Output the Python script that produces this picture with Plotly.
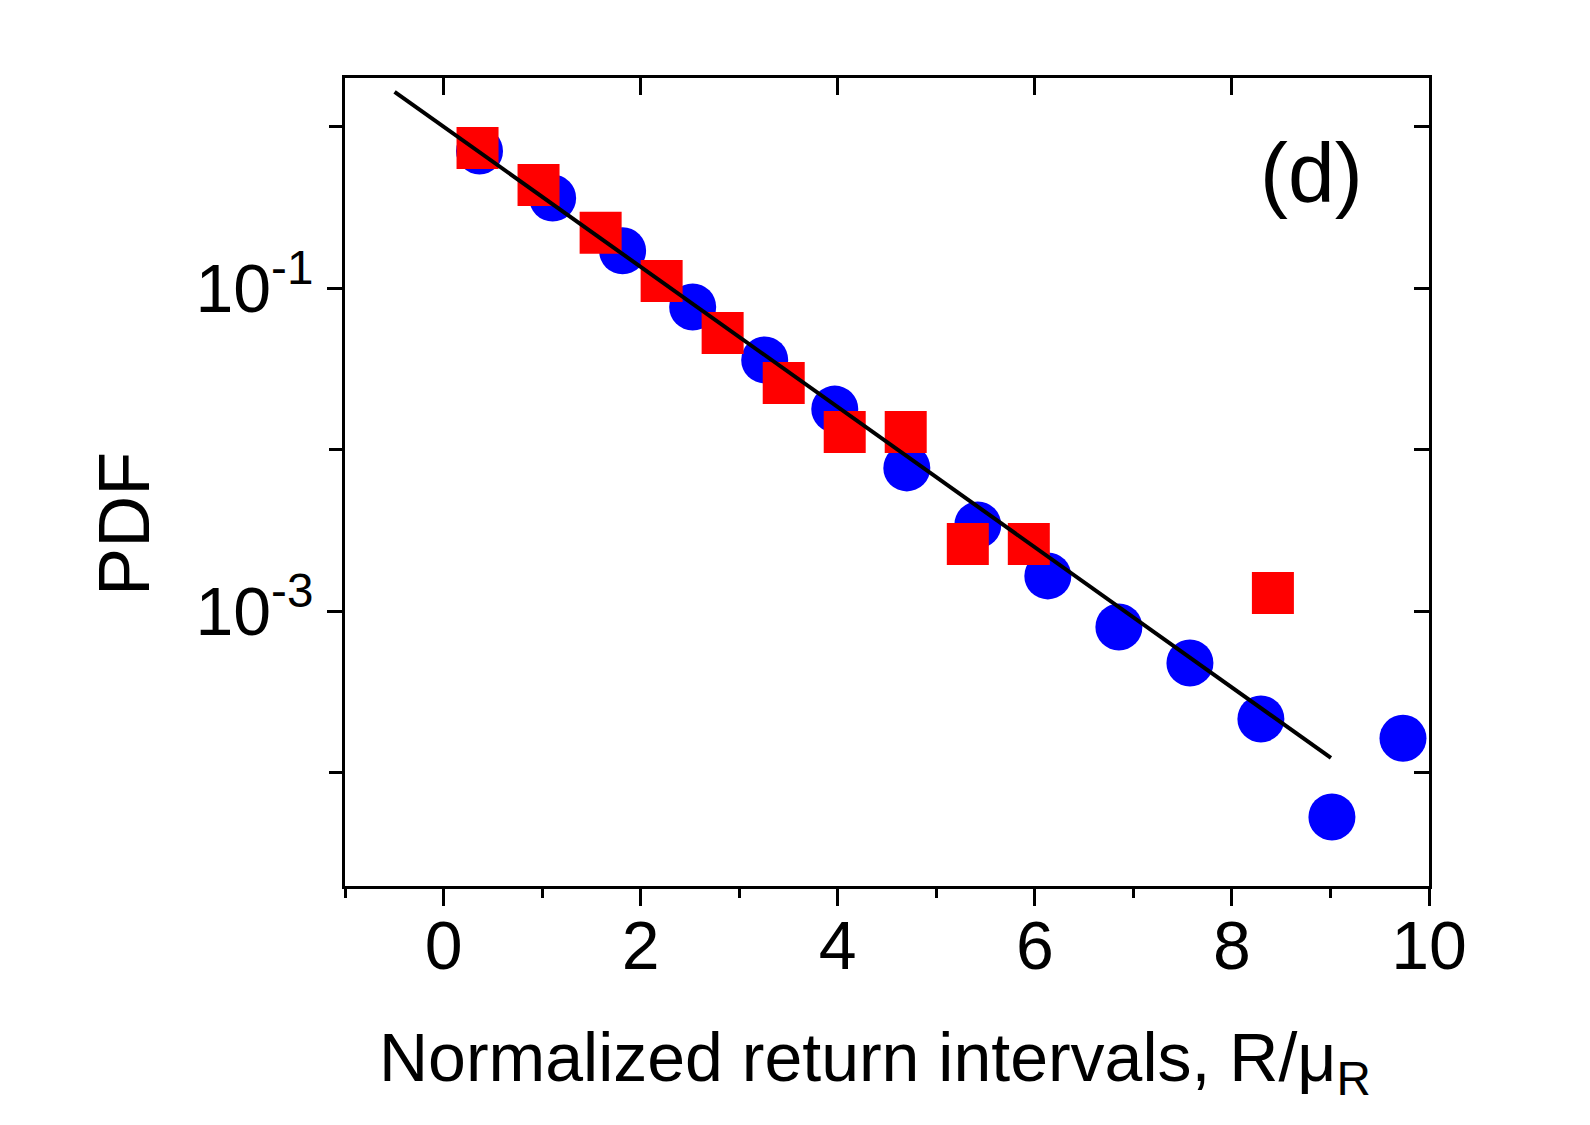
import plotly.graph_objects as go

# blue circles
blue_x = [0.365, 1.107, 1.817, 2.528, 3.259, 3.970, 4.701, 5.421, 6.132,
          6.853, 7.574, 8.294, 9.015, 9.736]
blue_y = [0.710, 0.363, 0.171, 0.0768, 0.0361, 0.0179, 0.00774, 0.00343,
          0.00166, 0.000802, 0.000480, 0.000216, 5.34e-5, 0.000164]

# red squares
red_x = [0.345, 0.964, 1.594, 2.213, 2.832, 3.452, 4.071, 4.690, 5.320,
         5.939, 8.416]
red_y = [0.741, 0.437, 0.221, 0.111, 0.0530, 0.0260, 0.0129, 0.0129,
         0.00262, 0.00262, 0.00130]

# fitted line (end points)
fit_x = [-0.497, 9.005]
fit_y = [1.65, 1.24e-4]

x_ticks = [0, 2, 4, 6, 8, 10]
y_ticks = [1, 0.1, 0.01, 0.001, 0.0001]
y_label_vals = [0.1, 0.001]
y_label_text = ["10<sup>-1</sup>", "10<sup>-3</sup>"]

FONT = "Arial, Liberation Sans, sans-serif"
x_range = [-1, 10]
y_range = [-4.70, 0.303]

fig = go.Figure()
fig.add_trace(go.Scatter(
    x=blue_x, y=blue_y, mode="markers",
    marker=dict(symbol="circle", size=47, color="#0000ff", line=dict(width=0)),
    showlegend=False))
fig.add_trace(go.Scatter(
    x=red_x, y=red_y, mode="markers",
    marker=dict(symbol="square", size=42, color="#ff0000", line=dict(width=0)),
    showlegend=False))
fig.add_trace(go.Scatter(
    x=fit_x, y=fit_y, mode="lines",
    line=dict(color="black", width=4), showlegend=False))
# dummy traces so the extra tick axes get drawn
fig.add_trace(go.Scatter(x=[None], y=[None], xaxis="x2", yaxis="y2",
                         showlegend=False, hoverinfo="skip"))
fig.add_trace(go.Scatter(x=[None], y=[None], xaxis="x", yaxis="y3",
                         showlegend=False, hoverinfo="skip"))

tick_style = dict(tickwidth=3, tickcolor="black", showgrid=False,
                  zeroline=False)

fig.update_layout(
    width=1590, height=1125,
    margin=dict(l=337, r=169, t=70, b=247),
    paper_bgcolor="white", plot_bgcolor="white",
    font=dict(family=FONT, color="black"),
    xaxis=dict(
        range=x_range, tickvals=x_ticks, ticks="outside", ticklen=17,
        showline=True, linewidth=3, linecolor="black", mirror=True,
        tickfont=dict(size=68, family=FONT), ticklabelstandoff=-19,
        minor=dict(dtick=1, tick0=0, ticks="outside", ticklen=9,
                   tickwidth=3, tickcolor="black", showgrid=False),
        **tick_style,
    ),
    yaxis=dict(
        type="log", range=y_range, tickvals=y_label_vals,
        ticktext=y_label_text, ticks="outside", ticklen=15,
        showline=True, linewidth=3, linecolor="black", mirror=True,
        tickfont=dict(size=68, family=FONT),
        **tick_style,
    ),
    xaxis2=dict(
        range=x_range, overlaying="x", side="top", anchor="y",
        tickvals=x_ticks, ticks="inside", ticklen=17,
        showticklabels=False, showline=False, **tick_style,
    ),
    yaxis2=dict(
        type="log", range=y_range, overlaying="y", side="right", anchor="x",
        tickvals=y_ticks, ticks="inside", ticklen=15,
        showticklabels=False, showline=False, **tick_style,
    ),
    yaxis3=dict(
        type="log", range=y_range, overlaying="y", side="left", anchor="x",
        tickvals=y_ticks, ticks="outside", ticklen=15,
        showticklabels=False, showline=False, **tick_style,
    ),
    annotations=[
        dict(text="Normalized return intervals, R/\u03bc<sub>R</sub>",
             x=0.489, y=-0.218, xref="paper", yref="paper",
             xanchor="center", yanchor="middle", showarrow=False,
             font=dict(size=68, family=FONT)),
        dict(text="PDF", x=-0.204, y=0.448, xref="paper", yref="paper",
             xanchor="center", yanchor="middle", textangle=-90,
             showarrow=False, font=dict(size=72, family=FONT)),
        dict(text="(d)", x=0.892, y=0.8825, xref="paper", yref="paper",
             xanchor="center", yanchor="middle", showarrow=False,
             font=dict(size=84, family=FONT)),
    ],
)

fig.write_html("out.html")
